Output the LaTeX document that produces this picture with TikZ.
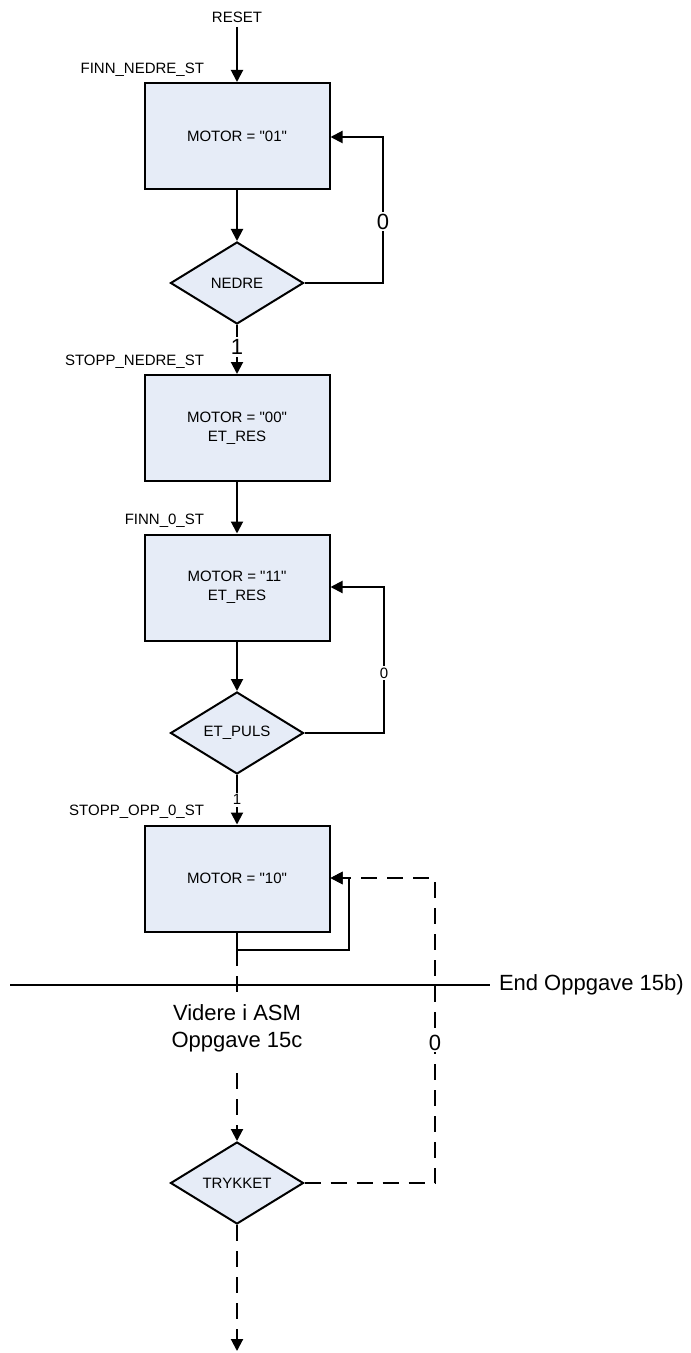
\documentclass[tikz,border=0pt]{standalone}
\usepackage{fontspec}
\setmainfont{Liberation Sans}[Ligatures=TeXOff]
\usetikzlibrary{shapes.geometric,arrows.meta}
\definecolor{boxfill}{HTML}{E6ECF7}
\begin{document}
\begin{tikzpicture}[x=0.5pt,y=-0.5pt,
  line width=1pt,
  >={Triangle[length=6pt,width=6pt]},
  statebox/.style={draw,fill=boxfill,line width=1pt,minimum width=92.5pt,minimum height=53pt,inner sep=0pt,align=center,font=\fontsize{7.5pt}{9.5pt}\selectfont},
  decbox/.style={draw,fill=boxfill,diamond,line width=1pt,minimum width=66.5pt,minimum height=41pt,inner sep=0pt,font=\fontsize{7.5pt}{9pt}\selectfont},
  smalltext/.style={font=\fontsize{7.5pt}{9pt}\selectfont,inner sep=0pt},
  bigtext/.style={font=\fontsize{11pt}{13.5pt}\selectfont,inner sep=1pt},
  dashline/.style={dash pattern=on 8pt off 5pt}
]
\useasboundingbox (0,0) rectangle (690,1353);

% texts
\node[smalltext] (reset) at (237,17) {RESET};
\coordinate (resetend) at (237,27);

% states
\node[statebox] (s1) at (237,136) {MOTOR = "01"};
\node[smalltext,anchor=east] (l1) at (205,70) {FINN\_NEDRE\_ST};
\node[decbox] (d1) at (237,283) {NEDRE};

\node[statebox] (s2) at (237,428) {MOTOR = "00"\\ET\_RES};
\node[smalltext,anchor=east] (l2) at (205,362) {STOPP\_NEDRE\_ST};

\node[statebox] (s3) at (237,587.5) {MOTOR = "11"\\ET\_RES};
\node[smalltext,anchor=east] (l3) at (205,521) {FINN\_0\_ST};
\node[decbox] (d2) at (237,733) {ET\_PULS};

\node[statebox] (s4) at (237,878.5) {MOTOR = "10"};
\node[smalltext,anchor=east] (l4) at (205,812) {STOPP\_OPP\_0\_ST};

\node[decbox] (d3) at (237,1183) {TRYKKET};

% main arrows
\draw[->] (resetend) -- (s1.north);
\draw[->] (s1.south) -- (d1.north);
\draw[->] (d1.south) -- node[bigtext,fill=white,pos=0.45] (one1) {1} (s2.north);
\draw[->] (s2.south) -- (s3.north);
\draw[->] (s3.south) -- (d2.north);
\draw[->] (d2.south) -- node[smalltext,fill=white,pos=0.5,inner sep=1pt] (one2) {1} (s4.north);

% feedback loops
\coordinate (f1a) at (383,283);
\coordinate (f1b) at (383,137);
\draw[->] (d1.east) -- (f1a) -- node[bigtext,fill=white,pos=0.42] (zero1) {0} (f1b) -- (s1.east |- f1b);

\coordinate (f2a) at (384,733);
\coordinate (f2b) at (384,587);
\draw[->] (d2.east) -- (f2a) -- node[smalltext,fill=white,pos=0.41,inner sep=1pt] (zero2) {0} (f2b) -- (s3.east |- f2b);

% self loop of s4
\coordinate (sl1) at (237,950);
\coordinate (sl2) at (349,950);
\coordinate (sl3) at (349,878);
\draw[->] (s4.south) -- (sl1) -- (sl2) -- (sl3) -- (s4.east |- sl3);

% separator
\node[bigtext,anchor=west,inner sep=0pt] (endtxt) at (498,985) {End Oppgave 15b)};
\coordinate (sepstart) at (10,985);
\draw (sepstart) -- ([xshift=-4pt]endtxt.west);

% continuation
\coordinate (c1) at (237,1000);
\draw[dashline] (sl1) -- (c1);
\node[bigtext,align=center] (videre) at (237,1028) {Videre i ASM\\Oppgave 15c};
\coordinate (c2) at (237,1073);
\draw[dashline,->] (c2) -- (d3.north);
\coordinate (c3) at (237,1351);
\draw[dashline,->] (d3.south) -- (c3);

% dashed feedback
\coordinate (f3a) at (435,1183);
\coordinate (f3b) at (435,878);
\draw[dashline,->] (d3.east) -- (f3a) -- node[bigtext,fill=white,pos=0.46] (zero3) {0} (f3b) -- (s4.east |- f3b);
\end{tikzpicture}
\end{document}
